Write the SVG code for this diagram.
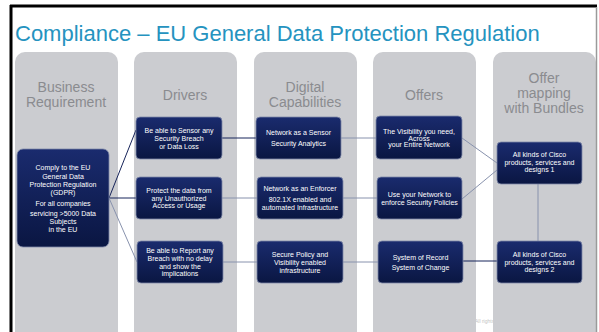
<svg xmlns="http://www.w3.org/2000/svg" width="599" height="332" viewBox="0 0 599 332">
<defs>
<linearGradient id="navy" x1="0" y1="0" x2="0" y2="1">
<stop offset="0" stop-color="#1a2b6e"/>
<stop offset="1" stop-color="#0a1642"/>
</linearGradient>
<style>
.col{fill:#cbccd0}
.hdr{font-family:"Liberation Sans",Arial,sans-serif;font-size:14px;fill:#8a8b8f;text-anchor:middle}
.box{fill:url(#navy);stroke:#7d88a8;stroke-width:0.8}
.bt{font-family:"Liberation Sans",Arial,sans-serif;font-size:7px;fill:#ffffff;text-anchor:middle}
.dk{stroke:#17245a;stroke-width:1;fill:none}
.lt{stroke:#8892ad;stroke-width:1;fill:none}
</style>
</defs>
<rect x="0" y="0" width="599" height="332" fill="#ffffff"/>
<text x="475" y="323" font-family="Liberation Sans,Arial,sans-serif" font-size="5" fill="#c4c4c4">All rights</text>
<g id="columns">
<rect class="col" x="15" y="52" width="103" height="300" rx="10"/>
<rect class="col" x="134" y="52" width="103" height="300" rx="10"/>
<rect class="col" x="254" y="52" width="103" height="300" rx="10"/>
<rect class="col" x="373" y="52" width="103" height="300" rx="10"/>
<rect class="col" x="493" y="52" width="103" height="300" rx="10"/>
</g>
<line x1="11" y1="5" x2="11" y2="332" stroke="#000" stroke-width="3"/>
<line x1="10" y1="6" x2="597" y2="6" stroke="#000" stroke-width="3"/>
<line x1="596.5" y1="7" x2="596.5" y2="332" stroke="#9a9a9a" stroke-width="1.5"/>
<text x="15" y="41" font-family="Liberation Sans,Arial,sans-serif" font-size="22" fill="#2593bf">Compliance – EU General Data Protection Regulation</text>
<g id="headers">
<text class="hdr" x="66" y="92">Business</text>
<text class="hdr" x="66" y="107">Requirement</text>
<text class="hdr" x="185" y="100">Drivers</text>
<text class="hdr" x="305" y="92">Digital</text>
<text class="hdr" x="305" y="107">Capabilities</text>
<text class="hdr" x="424" y="100">Offers</text>
<text class="hdr" x="544" y="83">Offer</text>
<text class="hdr" x="544" y="98">mapping</text>
<text class="hdr" x="544" y="113">with Bundles</text>
</g>
<g id="connectors">
<line class="dk" x1="109" y1="198" x2="136" y2="130"/>
<line class="dk" x1="109" y1="198" x2="136" y2="198"/>
<line class="lt" x1="109" y1="198" x2="137" y2="262"/>
<line class="dk" x1="222" y1="138" x2="256" y2="138"/>
<line class="lt" x1="222" y1="198" x2="257" y2="198" stroke="#a3a9ba"/>
<line class="lt" x1="222" y1="262" x2="257" y2="262"/>
<line class="lt" x1="341" y1="138" x2="376" y2="138" stroke="#a3a9ba"/>
<line class="lt" x1="343" y1="198" x2="377" y2="198" stroke="#a3a9ba"/>
<line class="lt" x1="343" y1="262" x2="378" y2="262" stroke="#a3a9ba"/>
<line class="lt" x1="462" y1="138" x2="497" y2="163"/>
<line class="lt" x1="462" y1="199" x2="497" y2="170"/>
<line class="lt" x1="538" y1="184" x2="538" y2="241" stroke="#98a0b4"/>
<line class="dk" x1="463" y1="261" x2="497" y2="261"/>
</g>
<g id="req">
<rect class="box" x="17" y="149" width="92" height="98" rx="6"/>
<text class="bt" font-size="8" x="63"><tspan x="63" y="169.5">Comply to the EU</tspan><tspan x="63" y="178.5">General Data</tspan><tspan x="63" y="187">Protection Regulation</tspan><tspan x="63" y="195">(GDPR)</tspan><tspan x="63" y="206">For all companies</tspan><tspan x="63" y="215.5">servicing &gt;5000 Data</tspan><tspan x="63" y="223.5">Subjects</tspan><tspan x="63" y="232">in the EU</tspan></text>
</g>
<g id="d1">
<rect class="box" x="136" y="117" width="86" height="42" rx="4"/>
<text class="bt"><tspan x="179" y="133">Be able to Sensor any</tspan><tspan x="179" y="141">Security Breach</tspan><tspan x="179" y="148.5">or Data Loss</tspan></text>
</g>
<g id="d2">
<rect class="box" x="136" y="177" width="86" height="42" rx="4"/>
<text class="bt"><tspan x="179" y="193">Protect the data from</tspan><tspan x="179" y="201">any Unauthorized</tspan><tspan x="179" y="208">Access or Usage</tspan></text>
</g>
<g id="d3">
<rect class="box" x="137" y="241" width="86" height="42" rx="4"/>
<text class="bt"><tspan x="180" y="253">Be able to Report any</tspan><tspan x="180" y="260.5">Breach with no delay</tspan><tspan x="180" y="268.5">and show the</tspan><tspan x="180" y="275.5">implications</tspan></text>
</g>
<g id="c1">
<rect class="box" x="256" y="117" width="85" height="42" rx="4"/>
<text class="bt"><tspan x="298.5" y="135">Network as a Sensor</tspan><tspan x="298.5" y="146">Security Analytics</tspan></text>
</g>
<g id="c2">
<rect class="box" x="257" y="177" width="86" height="42" rx="4"/>
<text class="bt"><tspan x="300" y="191">Network as an Enforcer</tspan><tspan x="300" y="201.5">802.1X enabled and</tspan><tspan x="300" y="210">automated Infrastructure</tspan></text>
</g>
<g id="c3">
<rect class="box" x="257" y="241" width="86" height="42" rx="4"/>
<text class="bt"><tspan x="300" y="257">Secure Policy and</tspan><tspan x="300" y="265">Visibility enabled</tspan><tspan x="300" y="272.5">infrastructure</tspan></text>
</g>
<g id="o1">
<rect class="box" x="376" y="116" width="86" height="43" rx="4"/>
<text class="bt"><tspan x="419" y="133.5">The Visibility you need,</tspan><tspan x="419" y="140.5">Across</tspan><tspan x="419" y="146.5">your Entire Network</tspan></text>
</g>
<g id="o2">
<rect class="box" x="377" y="177" width="85" height="42" rx="4"/>
<text class="bt" font-size="7.5"><tspan x="419.5" y="197">Use your Network to</tspan><tspan x="419.5" y="204.5">enforce Security Policies</tspan></text>
</g>
<g id="o3">
<rect class="box" x="378" y="241" width="85" height="42" rx="4"/>
<text class="bt" font-size="7.5"><tspan x="420.5" y="259.5">System of Record</tspan><tspan x="420.5" y="270">System of Change</tspan></text>
</g>
<g id="b1">
<rect class="box" x="497" y="142" width="85" height="42" rx="4"/>
<text class="bt"><tspan x="539.5" y="157">All kinds of Cisco</tspan><tspan x="539.5" y="164.5">products, services and</tspan><tspan x="539.5" y="172">designs 1</tspan></text>
</g>
<g id="b2">
<rect class="box" x="497" y="241" width="85" height="42" rx="4"/>
<text class="bt"><tspan x="539.5" y="257">All kinds of Cisco</tspan><tspan x="539.5" y="264.5">products, services and</tspan><tspan x="539.5" y="272">designs 2</tspan></text>
</g>
</svg>
